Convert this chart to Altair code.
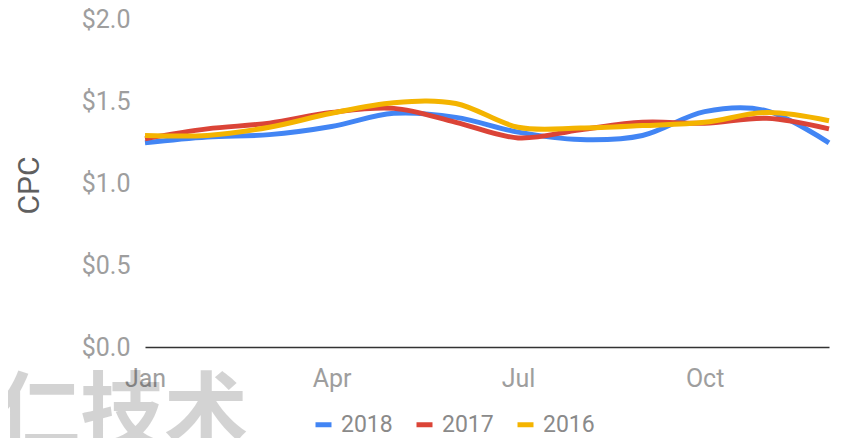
import altair as alt
import pandas as pd

months = ["Jan", "Feb", "Mar", "Apr", "May", "Jun", "Jul", "Aug", "Sep", "Oct", "Nov", "Dec"]
years = ["2018", "2017", "2016"]
cpc_2018 = [1.245, 1.28, 1.295, 1.345, 1.425, 1.40, 1.31, 1.265, 1.29, 1.435, 1.44, 1.245]
cpc_2017 = [1.27, 1.33, 1.365, 1.43, 1.455, 1.37, 1.275, 1.325, 1.37, 1.365, 1.395, 1.33]
cpc_2016 = [1.29, 1.29, 1.34, 1.425, 1.49, 1.485, 1.34, 1.335, 1.35, 1.37, 1.43, 1.38]
colors = ["#4285F4", "#DB4437", "#F4B400"]
x_labels = ["Jan", "Apr", "Jul", "Oct"]
y_ticks = [0, 0.5, 1.0, 1.5, 2.0]
watermark = "仁技术"

rows = []
for yr, vals in zip(years, [cpc_2018, cpc_2017, cpc_2016]):
    for m, v in zip(months, vals):
        rows.append({"Month": m, "Year": yr, "CPC": v})
df = pd.DataFrame(rows)

x_enc = alt.X(
    "Month:O",
    sort=months,
    scale=alt.Scale(domain=months, padding=0),
    axis=alt.Axis(
        values=x_labels, title=None, labelAngle=0, ticks=False, tickSize=0,
        labelPadding=19, labelFontSize=25, labelColor="#9e9e9e",
        labelFont="Roboto", domainColor="#333333", domainWidth=1.5, grid=False,
    ),
)
y_enc = alt.Y(
    "CPC:Q",
    scale=alt.Scale(domain=[0, 2], nice=False, zero=True),
    axis=alt.Axis(
        values=y_ticks, format="$.1f", title="CPC", grid=False, domain=False,
        ticks=False, tickSize=0, labelPadding=15, labelFontSize=25,
        labelColor="#9e9e9e", labelFont="Roboto", titleFont="Roboto",
        titleFontSize=30, titleFontWeight="normal", titleColor="#5f5f5f",
        titleAngle=-90, titleX=-116, titleY=166, titleAlign="center",
        titleBaseline="middle",
    ),
)
color_enc = alt.Color(
    "Year:N",
    scale=alt.Scale(domain=years, range=colors),
    legend=alt.Legend(
        title=None, orient="none", direction="horizontal", columns=3,
        legendX=167, legendY=394, symbolType="stroke", symbolStrokeWidth=5,
        symbolSize=256, labelFontSize=23, labelColor="#8a8a8a",
        labelFont="Roboto", labelOffset=6, columnPadding=13,
    ),
)

layers = []
for yr in years:
    layers.append(
        alt.Chart(df)
        .transform_filter(alt.datum.Year == yr)
        .mark_line(interpolate="cardinal", strokeWidth=5)
        .encode(x=x_enc, y=y_enc, color=color_enc)
    )

wm = alt.Chart(pd.DataFrame({"t": [watermark]})).mark_text(
    font="Noto Sans CJK SC", fontSize=84, fontWeight="bold", align="left",
    baseline="alphabetic", color="#000000", opacity=0.17,
).encode(text="t:N", x=alt.value(-149), y=alt.value(423))

chart = alt.layer(*layers, wm).properties(
    width=684, height=328,
    autosize=alt.AutoSizeParams(type="none"),
    padding={"left": 137, "top": 11, "right": 4, "bottom": 100},
).configure_view(stroke=None)

chart.save("out.html", embed_options={"renderer": "svg", "actions": False})
